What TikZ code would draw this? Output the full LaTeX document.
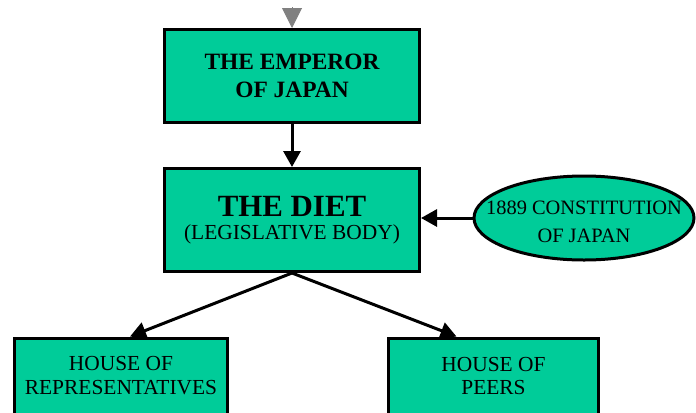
\documentclass[tikz,border=0pt]{standalone}
\usepackage{fontspec}
\setmainfont{Liberation Serif}
\usetikzlibrary{shapes.geometric,arrows.meta}
\definecolor{boxgreen}{RGB}{0,204,153}
\definecolor{arrowgrey}{RGB}{128,128,128}
\tikzset{
  box/.style={draw=black, line width=3bp, fill=boxgreen, inner sep=0pt, align=center, text=black},
  oval/.style={ellipse, draw=black, line width=3bp, fill=boxgreen, inner sep=0pt},
  link/.style={draw=black, line width=3bp, -{Triangle[length=16bp,width=17bp]}},
}
\begin{document}
\begin{tikzpicture}[x=1bp,y=-1bp]
\useasboundingbox (0,0) rectangle (696,412);
\node[box, minimum width=255bp, minimum height=93bp, font=\fontsize{23.5}{28}\selectfont\bfseries] (emp) at (292,76) {THE EMPEROR\\OF JAPAN};
\node[box, minimum width=255bp, minimum height=103bp, font=\fontsize{21.5}{23}\selectfont] (diet) at (292,220) {{\fontsize{31}{30}\selectfont\bfseries THE DIET}\\{(LEGISLATIVE BODY)}};
\node[oval, minimum width=220bp, minimum height=84bp, font=\fontsize{20.5}{27}\selectfont] (con) at (584,218) {\raisebox{-10.5bp}[0pt][0pt]{\makebox[0pt]{\begin{tabular}{@{}c@{}}1889 CONSTITUTION\\[1bp]OF JAPAN\end{tabular}}}};
\node[box, minimum width=213bp, minimum height=76bp, font=\fontsize{21.5}{24}\selectfont] (rep) at (121,376) {HOUSE OF\\REPRESENTATIVES};
\node[box, minimum width=210bp, minimum height=76bp, font=\fontsize{21.5}{24}\selectfont] (peer) at (493.5,376) {HOUSE OF\\PEERS};
\coordinate (top) at (292,7);
\draw[draw=arrowgrey, line width=1bp, -{Triangle[length=20bp,width=20bp]}, arrowgrey] (top) -- (emp.north);
\draw[link] (emp.south) -- (diet.north);
\draw[link] (con.west) -- (con.west -| diet.east);
\draw[link] (diet.south) -- ([xshift=9bp]rep.north);
\draw[link] (diet.south) -- ([xshift=-37bp]peer.north);
\end{tikzpicture}
\end{document}
